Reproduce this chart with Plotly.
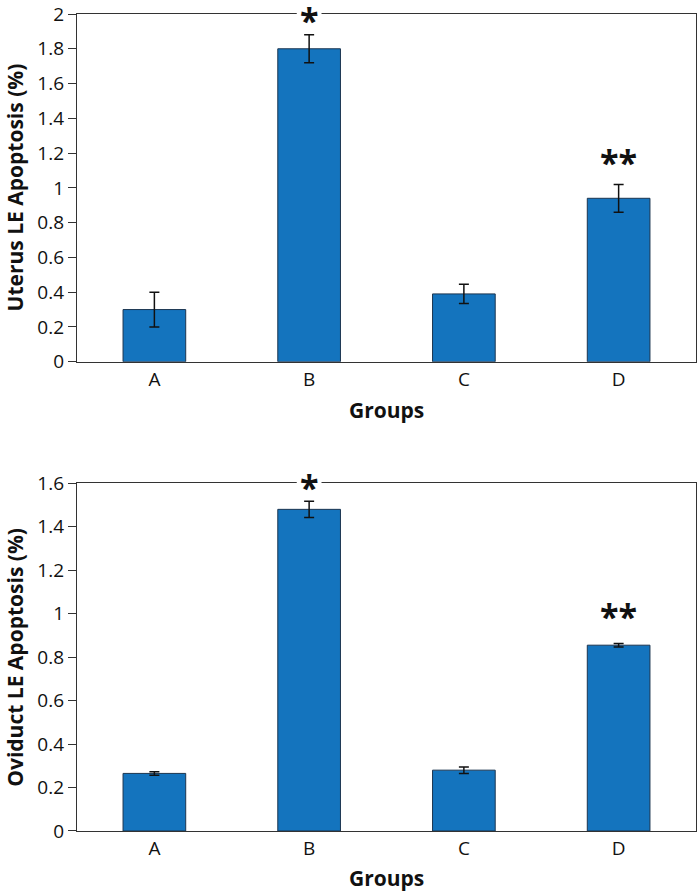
import plotly.graph_objects as go

groups = ["A", "B", "C", "D"]
uterus_vals = [0.30, 1.80, 0.39, 0.94]
uterus_err = [0.10, 0.08, 0.055, 0.08]
oviduct_vals = [0.265, 1.48, 0.28, 0.855]
oviduct_err = [0.008, 0.037, 0.015, 0.008]
uterus_marks = ["", "*", "", "**"]
uterus_mark_y = [None, 1.965, None, 1.15]
oviduct_marks = ["", "*", "", "**"]
oviduct_mark_y = [None, 1.585, None, 0.99]

W, H = 698, 892
ML, MR, MT, MB = 77, 1, 11, 61
PH = H - MT - MB
PW = W - ML - MR
top_dom = [(H - MB - 360) / PH, 1.0]
bot_dom = [0.0, (H - MB - 482) / PH]

BAR = "#1474be"
EDGE = "#1c3550"
AX = "#333333"
FONT = "Open Sans, Noto Sans, sans-serif"

fig = go.Figure()
for vals, err, xa, ya in [(uterus_vals, uterus_err, "x", "y"), (oviduct_vals, oviduct_err, "x2", "y2")]:
    fig.add_trace(go.Bar(
        x=groups, y=vals, xaxis=xa, yaxis=ya, width=0.405,
        marker=dict(color=BAR, line=dict(color=EDGE, width=1)),
        error_y=dict(type="data", array=err, visible=True, color="#111111", thickness=1.5, width=5),
        showlegend=False,
    ))

axis_common = dict(showline=True, linecolor=AX, linewidth=1.3, mirror=True, showgrid=False, zeroline=False,
                   tickfont=dict(family=FONT, size=19, color="#111"))
fig.update_layout(
    width=W, height=H,
    margin=dict(l=ML, r=MR, t=MT, b=MB),
    plot_bgcolor="white", paper_bgcolor="white",
    xaxis=dict(domain=[0, 1], anchor="y", range=[-0.5, 3.5], ticks="", **axis_common),
    yaxis=dict(domain=top_dom, anchor="x", range=[0, 2], dtick=0.2, ticks="outside", ticklen=8,
               tickcolor=AX, tickwidth=1.3, tickformat="~g", **axis_common),
    xaxis2=dict(domain=[0, 1], anchor="y2", range=[-0.5, 3.5], ticks="", **axis_common),
    yaxis2=dict(domain=bot_dom, anchor="x2", range=[0, 1.6], dtick=0.2, ticks="outside", ticklen=8,
                tickcolor=AX, tickwidth=1.3, tickformat="~g", **axis_common),
)

ann = []
shapes = []
for marks, my, xr, yr in [(uterus_marks, uterus_mark_y, "x", "y"), (oviduct_marks, oviduct_mark_y, "x2", "y2")]:
    for i, (g, m, yv) in enumerate(zip(groups, marks, my)):
        if m:
            ann.append(dict(x=g, y=yv, xref=xr, yref=yr, text="<b>" + m + "</b>", showarrow=False,
                            font=dict(family=FONT, size=34, color="#111"), yanchor="middle"))
            if m == "*":
                shapes.append(dict(type="rect", xref=xr, yref=yr + " domain", x0=i - 0.08, x1=i + 0.08,
                                   y0=0.99, y1=1.01, fillcolor="white", line=dict(width=0), layer="above"))

def py(pix):
    return (H - MB - pix) / PH

def px(pix):
    return (pix - ML) / PW

title_font = dict(family=FONT, size=21, color="#111")
ann.append(dict(x=0.5, y=py(408), xref="paper", yref="paper", text="<b>Groups</b>", showarrow=False,
                font=title_font, xanchor="center", yanchor="middle"))
ann.append(dict(x=0.5, y=py(878), xref="paper", yref="paper", text="<b>Groups</b>", showarrow=False,
                font=title_font, xanchor="center", yanchor="middle"))
ann.append(dict(x=px(15), y=py(185), xref="paper", yref="paper", text="<b>Uterus LE Apoptosis (%)</b>",
                showarrow=False, font=title_font, textangle=-90, xanchor="center", yanchor="middle"))
ann.append(dict(x=px(15), y=py(657), xref="paper", yref="paper", text="<b>Oviduct LE Apoptosis (%)</b>",
                showarrow=False, font=title_font, textangle=-90, xanchor="center", yanchor="middle"))
fig.update_layout(annotations=ann, shapes=shapes)

fig.write_html("out.html", config={"displayModeBar": False},
               post_script="document.body.style.margin='0px';")
